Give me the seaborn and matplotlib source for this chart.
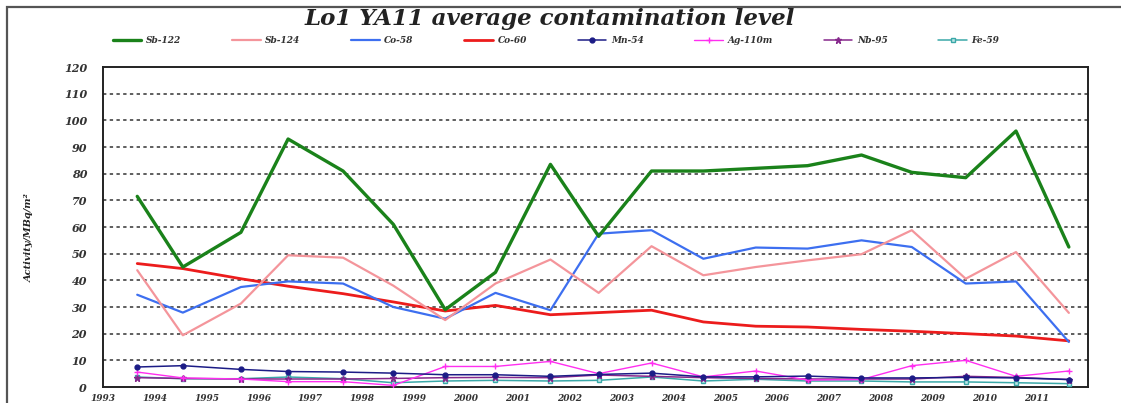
import matplotlib
matplotlib.use("Agg")
import matplotlib.pyplot as plt
import seaborn as sns
import pandas as pd
from matplotlib.patches import Rectangle

# Sampling dates (fractional year of each annual measurement campaign)
sample_dates = [1993.66, 1994.54, 1995.66, 1996.57, 1997.63, 1998.60, 1999.60,
                2000.57, 2001.63, 2002.56, 2003.58, 2004.58, 2005.59, 2006.59,
                2007.63, 2008.60, 2009.64, 2010.61, 2011.63]

# Average contamination per nuclide
sb122 = [71.5, 45.0, 58.0, 93.0, 81.0, 61.0, 29.0, 43.0, 83.5, 56.5,
         81.0, 81.0, 82.0, 83.0, 87.0, 80.5, 78.5, 96.0, 52.5]
sb124 = [43.8, 19.4, 31.3, 49.4, 48.5, 38.0, 25.1, 38.8, 47.8, 35.3,
         52.8, 41.9, 45.0, 47.5, 49.8, 58.8, 40.6, 50.6, 27.8]
co58 = [34.6, 27.9, 37.5, 39.6, 38.8, 30.0, 25.6, 35.3, 28.8, 57.5,
        58.8, 48.1, 52.3, 51.9, 55.0, 52.5, 38.8, 39.6, 16.9]
co60 = [46.3, 44.4, 40.6, 37.8, 35.0, 31.9, 28.5, 30.6, 27.1, 27.9,
        28.8, 24.4, 22.8, 22.5, 21.6, 20.9, 20.0, 19.1, 17.3]
mn54 = [7.5, 8.0, 6.6, 5.8, 5.6, 5.2, 4.6, 4.6, 4.0, 4.7,
        5.2, 3.8, 3.8, 4.1, 3.4, 3.4, 3.6, 3.4, 2.8]
ag110m = [5.6, 3.4, 3.0, 2.0, 2.0, 0.6, 7.7, 7.7, 9.6, 5.0,
          9.0, 3.8, 6.0, 2.6, 2.8, 8.0, 10.0, 4.0, 6.0]
nb95 = [3.5, 3.2, 3.0, 3.0, 3.0, 3.2, 3.5, 3.6, 3.5, 4.5,
        4.0, 3.5, 3.2, 3.0, 3.0, 3.0, 4.0, 3.6, 2.8]
fe59 = [3.75, 3.1, 3.1, 3.75, 3.1, 1.6, 2.25, 2.5, 2.25, 2.5,
        3.75, 2.25, 2.9, 2.25, 2.25, 1.9, 1.9, 1.6, 1.25]

nuclides = ["Sb-122", "Sb-124", "Co-58", "Co-60", "Mn-54", "Ag-110m", "Nb-95", "Fe-59"]
series = [sb122, sb124, co58, co60, mn54, ag110m, nb95, fe59]
year_ticks = list(range(1993, 2012))
y_ticks = list(range(0, 130, 10))

colors = ["#1a821a", "#f4959b", "#3d6ff0", "#ec1c1c",
          "#1c1c86", "#ff2ef0", "#86288c", "#3aa8a8"]
widths = [2.4, 1.6, 1.6, 2.0, 1.1, 1.0, 1.1, 1.1]
markers = [None, None, None, None, "o", "+", "*", "s"]
msizes = [0, 0, 0, 0, 3.5, 4.5, 4.5, 3.2]

df = pd.DataFrame({"date": sample_dates})
for name, vals in zip(nuclides, series):
    df[name] = vals
long = df.melt(id_vars="date", var_name="nuclide", value_name="activity")

sns.set_style("white")
plt.rcParams["font.family"] = ["DejaVu Serif"]

fig = plt.figure(figsize=(11.21, 4.03), dpi=100)
ax = fig.add_axes([0.0919, 0.0397, 0.8787, 0.794])

# Draw low-level nuclides first so the main ones sit on top
order = [7, 6, 5, 4, 3, 2, 1, 0]
for i in order:
    sub = long[long["nuclide"] == nuclides[i]]
    kw = {}
    if markers[i]:
        kw = dict(marker=markers[i], markersize=msizes[i],
                  markeredgecolor=colors[i], markeredgewidth=1.0,
                  markerfacecolor=("#bfe6e6" if markers[i] == "s" else colors[i]))
    sns.lineplot(data=sub, x="date", y="activity", ax=ax, color=colors[i],
                 linewidth=widths[i], label=nuclides[i], legend=False,
                 estimator=None, sort=False, zorder=3 + (7 - i), **kw)

ax.set_xlim(1993.0, 2012.0)
ax.set_ylim(0, 120)
ax.set_xticks(year_ticks)
ax.set_xticklabels([str(y) for y in year_ticks])
ax.set_yticks(y_ticks)
ax.set_xlabel("")
ax.set_ylabel("")

for v in y_ticks[1:-1]:
    ax.axhline(v, color="#333333", linewidth=1.1, linestyle=(0, (2.2, 2.2)), zorder=1)

for s in ax.spines.values():
    s.set_color("#222222")
    s.set_linewidth(1.4)
    s.set_visible(True)

ax.tick_params(axis="y", direction="inout", length=7, width=1.2, color="#222222",
               labelsize=8, pad=8)
ax.tick_params(axis="x", direction="out", length=3, width=1.0, color="#222222",
               labelsize=6.5, pad=2)
for lab in ax.get_yticklabels() + ax.get_xticklabels():
    lab.set_fontweight("bold")
    lab.set_fontstyle("italic")
    lab.set_color("#333333")

fig.text(0.49, 0.952, "Lo1 YA11 average contamination level", ha="center", va="center",
         fontsize=16.5, fontweight="bold", fontstyle="italic", color="#222222")

fig.text(0.026, 0.41, "Activity/MBq/m²", rotation=90, ha="center", va="center",
         fontsize=7, fontweight="bold", fontstyle="italic", color="#222222")

handles, labels = ax.get_legend_handles_labels()
lookup = dict(zip(labels, handles))
leg = fig.legend([lookup[n] for n in nuclides], nuclides, loc="center",
                 bbox_to_anchor=(0.496, 0.9), ncol=8, frameon=False,
                 prop=dict(family="DejaVu Serif", weight="bold", style="italic", size=6.5),
                 handlelength=3.2, handletextpad=0.5, columnspacing=5.6)
for t in leg.get_texts():
    t.set_color("#333333")

# Chart-area frame
fig.patches.append(Rectangle((7 / 1121, -0.05), 1.2, 1 - 7 / 403 + 0.05,
                             transform=fig.transFigure, fill=False,
                             edgecolor="#555555", linewidth=1.6))

fig.savefig("out.png", dpi=100)
